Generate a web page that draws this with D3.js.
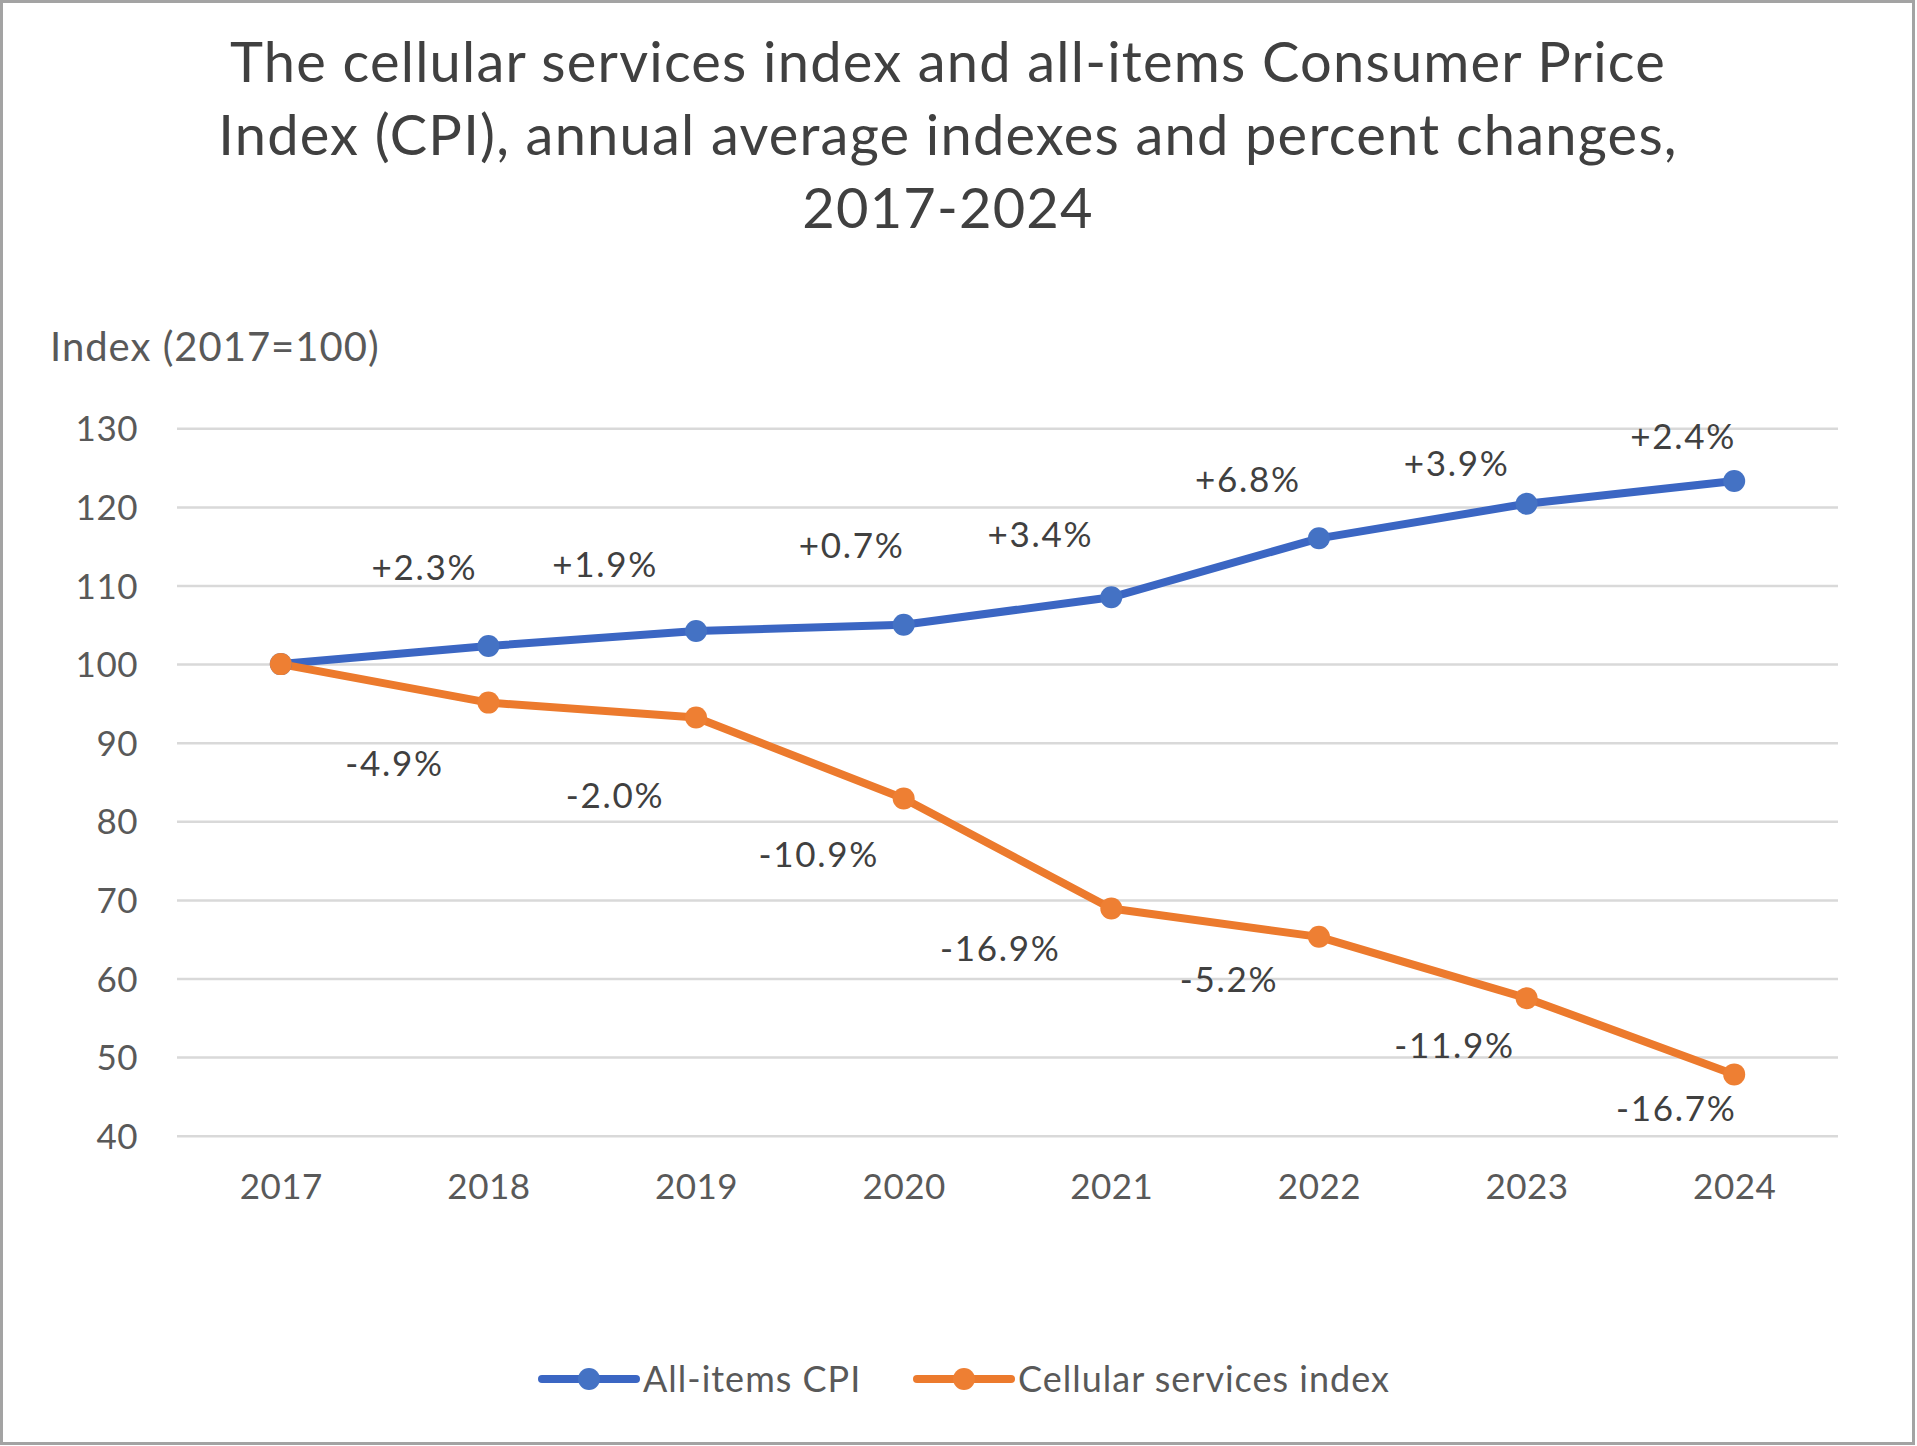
<!DOCTYPE html>
<html>
<head>
<meta charset="utf-8">
<title>Cellular services index and CPI</title>
<script src="https://cdn.jsdelivr.net/npm/d3@7"></script>
<style>
    body { margin: 0; background: #fff; }
    #chart-area { width: 1917px; height: 1446px; }
    text { font-family: Lato, "Open Sans", sans-serif; }
    .chart-title { font-size: 56px; fill: #404040; letter-spacing: 1.2px; }
    .axis text { font-size: 35px; fill: #595959; letter-spacing: 0.5px; }
    .axis-title { font-size: 40px; fill: #595959; letter-spacing: 1px; }
    .data-label { font-size: 35px; fill: #404040; letter-spacing: 1.7px; }
    .legend-label { font-size: 36px; fill: #595959; letter-spacing: 1px; }
</style>
</head>
<body>
<div id="chart-area"></div>
<script>
/* * * * * * * * * * * * * * * * * *
 *  Cellular services vs CPI chart  *
 * * * * * * * * * * * * * * * * * */

// Data
const years = ["2017", "2018", "2019", "2020", "2021", "2022", "2023", "2024"];
const cpiValues = [100, 102.3, 104.2, 105.0, 108.5, 116.0, 120.4, 123.3];
const cellValues = [100, 95.1, 93.2, 82.9, 68.9, 65.3, 57.5, 47.8];
// percent changes from the previous year (2018 onward)
const cpiChanges = [2.3, 1.9, 0.7, 3.4, 6.8, 3.9, 2.4];
const cellChanges = [-4.9, -2.0, -10.9, -16.9, -5.2, -11.9, -16.7];
const yTicks = [40, 50, 60, 70, 80, 90, 100, 110, 120, 130];
const seriesNames = ["All-items CPI", "Cellular services index"];
const titleLines = [
    "The cellular services index and all-items Consumer Price",
    "Index (CPI), annual average indexes and percent changes,",
    "2017-2024"
];

class CpiChart {
    constructor(parentElement) {
        this.parentElement = parentElement;
        this.initVis();
    }

    initVis() {
        let vis = this;

        vis.fullWidth = 1917;
        vis.fullHeight = 1446;
        vis.margin = { top: 428.3, right: 79, bottom: 310.3, left: 177 };
        vis.width = vis.fullWidth - vis.margin.left - vis.margin.right;
        vis.height = vis.fullHeight - vis.margin.top - vis.margin.bottom;

        vis.root = d3.select(`#${vis.parentElement}`).append("svg")
            .attr("width", vis.fullWidth)
            .attr("height", vis.fullHeight);

        // white background + grey outer frame
        vis.root.append("rect")
            .attr("x", 1.5).attr("y", 1.5)
            .attr("width", vis.fullWidth - 5).attr("height", vis.fullHeight - 4)
            .attr("fill", "#fff")
            .attr("stroke", "#a3a3a3")
            .attr("stroke-width", 3);

        // Title
        vis.root.append("text")
            .attr("class", "chart-title")
            .attr("text-anchor", "middle")
            .selectAll("tspan")
            .data(titleLines)
            .enter()
            .append("tspan")
            .attr("x", 948)
            .attr("y", (d, i) => 82 + i * 73)
            .text(d => d);

        // Axis title
        vis.root.append("text")
            .attr("class", "axis-title")
            .attr("x", 50)
            .attr("y", 361)
            .text("Index (2017=100)");

        vis.svg = vis.root.append("g")
            .attr("transform", `translate(${vis.margin.left}, ${vis.margin.top})`);

        // Scales
        vis.x = d3.scalePoint()
            .domain(years)
            .range([0, vis.width])
            .padding(0.5);

        vis.y = d3.scaleLinear()
            .domain([40, 130])
            .range([vis.height, 0]);

        vis.colors = d3.scaleOrdinal()
            .domain(seriesNames)
            .range(["#3b66c3", "#ec7a2d"]);
        vis.markerColors = d3.scaleOrdinal()
            .domain(seriesNames)
            .range(["#4472c4", "#ee7f33"]);

        // Y axis with gridlines
        vis.svg.append("g")
            .attr("class", "axis y-axis")
            .call(d3.axisLeft(vis.y)
                .tickValues(yTicks)
                .tickSize(-vis.width)
                .tickPadding(39))
            .call(g => g.select(".domain").remove())
            .call(g => g.selectAll(".tick line")
                .attr("stroke", "#d9d9d9")
                .attr("stroke-width", 2.5))
            .call(g => g.selectAll(".tick text").attr("dy", "0.36em"));

        // X axis (labels only)
        vis.svg.append("g")
            .attr("class", "axis x-axis")
            .attr("transform", `translate(0, ${vis.height})`)
            .call(d3.axisBottom(vis.x).tickSize(0).tickPadding(38))
            .call(g => g.select(".domain").remove());

        vis.line = d3.line()
            .x(d => vis.x(d.year))
            .y(d => vis.y(d.value));

        vis.wrangleData();
    }

    wrangleData() {
        let vis = this;

        vis.series = [
            { name: seriesNames[0], changes: cpiChanges,
              values: years.map((yr, i) => ({ year: yr, value: cpiValues[i] })) },
            { name: seriesNames[1], changes: cellChanges,
              values: years.map((yr, i) => ({ year: yr, value: cellValues[i] })) }
        ];

        vis.updateVis();
    }

    updateVis() {
        let vis = this;

        // Lines
        vis.svg.selectAll(".series-line")
            .data(vis.series)
            .enter()
            .append("path")
            .attr("class", "series-line")
            .attr("d", d => vis.line(d.values))
            .attr("fill", "none")
            .attr("stroke", d => vis.colors(d.name))
            .attr("stroke-width", 8)
            .attr("stroke-linejoin", "round")
            .attr("stroke-linecap", "round");

        // Markers
        vis.series.forEach(s => {
            vis.svg.selectAll(null)
                .data(s.values)
                .enter()
                .append("circle")
                .attr("cx", d => vis.x(d.year))
                .attr("cy", d => vis.y(d.value))
                .attr("r", 11)
                .attr("fill", vis.markerColors(s.name));
        });

        // Percent change labels, nudged by hand like the original
        let nudges = [
            [[-64, -79], [-91, -67], [-52, -79], [-71, -63], [-71, -59], [-70, -40], [-51, -45]],
            [[-94, 61], [-81, 78], [-85, 56], [-111, 40], [-90, 43], [-72, 47], [-58, 34]]
        ];
        let fmt = v => (v > 0 ? "+" : "") + v.toFixed(1) + "%";

        vis.series.forEach((s, si) => {
            vis.svg.selectAll(null)
                .data(s.changes)
                .enter()
                .append("text")
                .attr("class", "data-label")
                .attr("text-anchor", "middle")
                .attr("dy", "0.36em")
                .attr("x", (d, i) => vis.x(years[i + 1]) + nudges[si][i][0])
                .attr("y", (d, i) => vis.y(s.values[i + 1].value) + nudges[si][i][1])
                .text(d => fmt(d));
        });

        // Legend
        let legend = vis.root.append("g")
            .attr("transform", "translate(0, 1379)");
        let legendX = [542, 917];

        let items = legend.selectAll(".legend-item")
            .data(seriesNames)
            .enter()
            .append("g")
            .attr("class", "legend-item")
            .attr("transform", (d, i) => `translate(${legendX[i]}, 0)`);

        items.append("line")
            .attr("x1", 0).attr("x2", 94)
            .attr("stroke", d => vis.colors(d))
            .attr("stroke-width", 8)
            .attr("stroke-linecap", "round");
        items.append("circle")
            .attr("cx", 47)
            .attr("r", 11)
            .attr("fill", d => vis.markerColors(d));
        items.append("text")
            .attr("class", "legend-label")
            .attr("x", 101)
            .attr("dy", "0.36em")
            .text(d => d);
    }
}

new CpiChart("chart-area");
</script>
</body>
</html>
